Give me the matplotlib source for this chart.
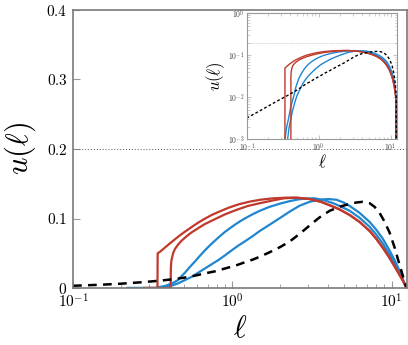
import math
import matplotlib
matplotlib.use("Agg")
import matplotlib.pyplot as plt
from matplotlib.ticker import FuncFormatter, LogLocator, NullFormatter, FixedLocator

plt.rcParams['mathtext.fontset'] = 'cm'
plt.rcParams['font.family'] = ['DejaVu Serif']

# ---- data ----
red1_l = [0.28, 0.339, 0.34, 0.351, 0.377, 0.40, 0.436, 0.47, 0.504, 0.55, 0.61, 0.67, 0.741, 0.85, 0.96, 1.1, 1.3, 1.5, 1.8, 2.2, 2.6, 3.06, 3.6, 4.2, 4.72, 5.46, 6.3, 7.28, 8.0, 8.8, 9.6, 10.45, 11.2, 11.8, 12.4]
red1_u = [0.0, 0.0, 0.050, 0.052, 0.058, 0.063, 0.070, 0.076, 0.081, 0.087, 0.094, 0.0995, 0.105, 0.111, 0.116, 0.1205, 0.1245, 0.127, 0.129, 0.130, 0.1298, 0.128, 0.124, 0.118, 0.113, 0.105, 0.095, 0.082, 0.071, 0.058, 0.045, 0.031, 0.019, 0.010, 0.0]

red2_l = [0.28, 0.41, 0.4115, 0.415, 0.425, 0.436, 0.455, 0.48, 0.52, 0.555, 0.61, 0.672, 0.777, 0.9, 1.05, 1.25, 1.486, 1.8, 2.1, 2.5, 3.06, 3.6, 4.2, 4.72, 5.46, 6.3, 7.28, 8.0, 8.8, 9.6, 10.45, 11.2, 11.8, 12.4]
red2_u = [0.0, 0.0, 0.030, 0.040, 0.050, 0.056, 0.062, 0.068, 0.075, 0.080, 0.086, 0.092, 0.099, 0.106, 0.112, 0.118, 0.122, 0.126, 0.129, 0.130, 0.128, 0.124, 0.118, 0.113, 0.105, 0.095, 0.082, 0.071, 0.058, 0.045, 0.031, 0.019, 0.010, 0.0]

blue1_l = [0.22, 0.33, 0.34, 0.36, 0.38, 0.41, 0.43, 0.457, 0.48, 0.504, 0.54, 0.582, 0.63, 0.672, 0.72, 0.777, 0.84, 0.897, 0.96, 1.037, 1.12, 1.198, 1.35, 1.486, 1.7, 2.0, 2.294, 2.6, 2.9, 3.3, 3.8, 4.3, 4.72, 5.46, 6.3, 7.28, 8.0, 8.8, 9.6, 10.45, 11.2, 11.8, 12.4]
blue1_u = [0.0, 0.0, 0.001, 0.002, 0.003, 0.006, 0.008, 0.0115, 0.017, 0.022, 0.030, 0.038, 0.047, 0.054, 0.061, 0.068, 0.075, 0.0805, 0.0855, 0.091, 0.096, 0.100, 0.1065, 0.111, 0.1165, 0.1215, 0.125, 0.1275, 0.1288, 0.129, 0.126, 0.122, 0.118, 0.111, 0.101, 0.088, 0.077, 0.064, 0.050, 0.035, 0.022, 0.011, 0.0]

blue2_l = [0.22, 0.36, 0.37, 0.39, 0.41, 0.43, 0.457, 0.5, 0.555, 0.61, 0.672, 0.74, 0.815, 0.9, 0.989, 1.09, 1.198, 1.33, 1.486, 1.7, 2.0, 2.294, 2.65, 3.06, 3.5, 4.0, 4.5, 5.0, 5.46, 6.3, 7.28, 8.0, 8.8, 9.6, 10.45, 11.2, 11.8, 12.4]
blue2_u = [0.0, 0.0, 0.001, 0.002, 0.003, 0.0045, 0.0067, 0.011, 0.016, 0.022, 0.028, 0.034, 0.040, 0.047, 0.054, 0.061, 0.067, 0.074, 0.082, 0.0905, 0.101, 0.110, 0.1185, 0.124, 0.127, 0.128, 0.127, 0.123, 0.118, 0.108, 0.095, 0.084, 0.071, 0.056, 0.040, 0.025, 0.012, 0.0]

dash_l = [0.1, 0.15, 0.2, 0.27, 0.35, 0.42, 0.504, 0.59, 0.672, 0.78, 0.897, 1.04, 1.198, 1.35, 1.486, 1.7, 2.0, 2.294, 2.65, 3.06, 3.5, 4.08, 4.72, 5.46, 6.0, 6.58, 7.28, 7.8, 8.41, 9.0, 9.7, 10.45, 11.0, 11.5, 12.0, 12.4]
dash_u = [0.0032, 0.0047, 0.0062, 0.0083, 0.0105, 0.0125, 0.015, 0.018, 0.021, 0.024, 0.028, 0.032, 0.037, 0.041, 0.045, 0.051, 0.059, 0.067, 0.078, 0.090, 0.101, 0.111, 0.117, 0.121, 0.123, 0.124, 0.122, 0.117, 0.108, 0.096, 0.080, 0.058, 0.040, 0.025, 0.011, 0.0]

ref_level = 0.2
main_yticks = [0.0, 0.1, 0.2, 0.3, 0.4]
xlim = (0.1, 12.4)

RED = '#c0392b'
BLUE = '#1f86cf'
SPINE = '#7a7a7a'

fig = plt.figure(figsize=(4.08, 3.45), dpi=100)
ax = fig.add_axes([73/408, 1-288/345, (406.5-73)/408, (288-10)/345])

def draw(a, lw, dlw, dash):
    for l, u in [(blue1_l, blue1_u), (blue2_l, blue2_u)]:
        a.plot(l, u, color=BLUE, lw=lw, solid_joinstyle='round')
    for l, u in [(red1_l, red1_u), (red2_l, red2_u)]:
        a.plot(l, u, color=RED, lw=lw, solid_joinstyle='round')
    a.plot(dash_l, dash_u, color='black', lw=dlw, ls=(0, dash))

logfmt = FuncFormatter(lambda v, p: r'$10^{%d}$' % round(math.log10(v)))

draw(ax, 1.6, 1.8, (3.5, 2.5))
ax.axhline(ref_level, color='#555555', lw=0.7, ls=(0, (1, 2)))
ax.set_xscale('log')
ax.set_xlim(*xlim)
ax.set_ylim(0, 0.4)
ax.yaxis.set_major_locator(FixedLocator(main_yticks))
ax.yaxis.set_major_formatter(FuncFormatter(lambda v, p: '$0$' if v == 0 else '$%.1f$' % v))
ax.xaxis.set_major_locator(LogLocator(base=10, numticks=10))
ax.xaxis.set_minor_locator(LogLocator(base=10, subs=range(2, 10), numticks=20))
ax.xaxis.set_major_formatter(logfmt)
ax.xaxis.set_minor_formatter(NullFormatter())
ax.tick_params(axis='both', which='major', direction='in', length=5, width=0.8, color='#999999', labelsize=11, pad=3)
ax.tick_params(axis='x', which='minor', direction='in', length=3, width=0.6, color='#999999')
ax.tick_params(axis='y', which='major', pad=4)
for s in ax.spines.values():
    s.set_color(SPINE)
    s.set_linewidth(1.2)
ax.set_xlabel(r'$\ell$', fontsize=22, labelpad=2)
ax.set_ylabel(r'$u(\ell)$', fontsize=22, labelpad=6)

# ---- inset ----
ia = fig.add_axes([246.7/408, 1-139.3/345, (397.3-246.7)/408, (139.3-13.3)/345])
draw(ia, 1.0, 1.0, (2, 1.6))
ia.axhline(ref_level, color='#aaaaaa', lw=0.5, ls=(0, (1, 1.5)))
ia.set_xscale('log')
ia.set_yscale('log')
ia.set_xlim(*xlim)
ia.set_ylim(1e-3, 1)
ia.xaxis.set_major_locator(LogLocator(base=10, numticks=10))
ia.yaxis.set_major_locator(LogLocator(base=10, numticks=10))
ia.xaxis.set_minor_locator(LogLocator(base=10, subs=range(2, 10), numticks=20))
ia.yaxis.set_minor_locator(LogLocator(base=10, subs=range(2, 10), numticks=20))
ia.xaxis.set_major_formatter(logfmt)
ia.yaxis.set_major_formatter(logfmt)
ia.xaxis.set_minor_formatter(NullFormatter())
ia.yaxis.set_minor_formatter(NullFormatter())
ia.tick_params(which='both', direction='in', top=True, right=True, color='#aaaaaa', labelsize=5.5, labelcolor='#444444', pad=1.5)
ia.tick_params(which='major', length=3, width=0.5)
ia.tick_params(which='minor', length=1.8, width=0.4)
for s in ia.spines.values():
    s.set_color('#999999')
    s.set_linewidth(0.8)
ia.set_xlabel(r'$\ell$', fontsize=12, labelpad=0)
ia.set_ylabel(r'$u(\ell)$', fontsize=12, labelpad=1)

fig.savefig('out.png', dpi=100)
